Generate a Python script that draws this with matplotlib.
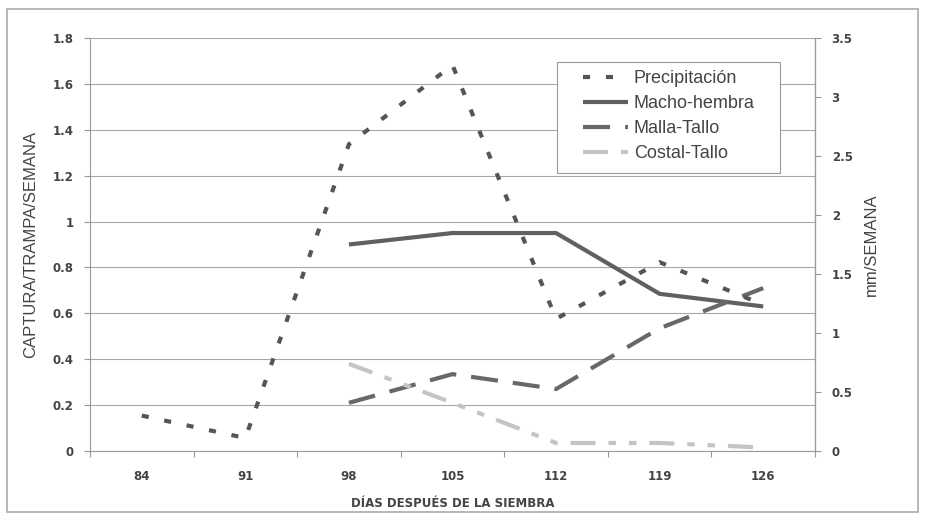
import matplotlib
matplotlib.use("Agg")
import matplotlib.pyplot as plt
from matplotlib.patches import Rectangle

days = ["84", "91", "98", "105", "112", "119", "126"]
precip = [0.30, 0.11, 2.60, 3.27, 1.12, 1.60, 1.24]          # mm/semana (right axis)
macho_days = ["98", "105", "112", "119", "126"]
macho = [0.90, 0.95, 0.95, 0.685, 0.63]
malla = [0.21, 0.335, 0.27, 0.535, 0.71]
costal = [0.38, 0.21, 0.035, 0.035, 0.015]
left_ticks = [0, 0.2, 0.4, 0.6, 0.8, 1, 1.2, 1.4, 1.6, 1.8]
right_ticks = [0, 0.5, 1, 1.5, 2, 2.5, 3, 3.5]

plt.rcParams['font.family'] = ['Liberation Sans', 'DejaVu Sans']

fig = plt.figure(figsize=(9.26, 5.17), dpi=100)
fig.patches.append(Rectangle((7/926, 5/517), 911/926, 503/517, transform=fig.transFigure,
                             fill=False, edgecolor='#aaaaaa', linewidth=1.2))
ax = fig.add_axes([90/926, 66/517, 725/926, 413/517])
ax2 = ax.twinx()

xi = {d: i for i, d in enumerate(days)}
xm = [xi[d] for d in macho_days]
xp = list(range(len(days)))

ax.set_xlim(-0.5, len(days) - 0.5)
ax.set_ylim(0, 1.8)
ax2.set_ylim(0, 3.5)

ax.set_yticks(left_ticks)
ax.set_yticklabels([f"{v:g}" for v in left_ticks])
ax2.set_yticks(right_ticks)
ax2.set_yticklabels([f"{v:g}" for v in right_ticks])
ax.grid(axis='y', color='#a8a8a8', linewidth=0.8)
ax.set_axisbelow(True)

ax.set_xticks([i - 0.5 for i in range(len(days) + 1)])
ax.set_xticklabels([])
ax.set_xticks(xp, minor=True)
ax.set_xticklabels(days, minor=True)
ax.tick_params(axis='x', which='minor', length=0, pad=14)
ax.tick_params(axis='x', which='major', length=4, color='#999999')

for a in (ax, ax2):
    a.spines['top'].set_visible(False)
ax.spines['left'].set_color('#999999')
ax.spines['bottom'].set_color('#999999')
ax2.spines['right'].set_color('#999999')
ax2.spines['left'].set_visible(False)
ax2.spines['bottom'].set_visible(False)
ax.tick_params(axis='y', length=4, color='#999999', pad=8)
ax2.tick_params(axis='y', length=4, color='#999999', pad=8)

for lab in ax.get_yticklabels() + ax2.get_yticklabels() + ax.get_xticklabels(minor=True):
    lab.set_family('DejaVu Sans'); lab.set_fontsize(8.5); lab.set_fontweight('bold'); lab.set_color('#444444')

l_mach, = ax.plot(xm, macho, color='#606060', linewidth=3, solid_capstyle='butt')
l_mall, = ax.plot(xm, malla, color='#686868', linewidth=3, dashes=(6.5, 3.6), dash_capstyle='butt')
l_cost, = ax.plot(xm, costal, color='#c4c4c4', linewidth=3, dashes=(6, 3.1, 1.8, 3.1, 1.8, 3.1),
                  dash_capstyle='butt')
l_prec, = ax2.plot(xp, precip, color='#555555', linewidth=3, dashes=(1.7, 3.8), dash_capstyle='butt')

ax.set_ylabel("CAPTURA/TRAMPA/SEMANA", fontsize=12, color='#444444', labelpad=10)
ax2.set_ylabel("mm/SEMANA", fontsize=12, color='#444444', labelpad=8)
ax.set_xlabel("DÍAS DESPUÉS DE LA SIEMBRA", fontsize=8.5, fontweight='bold', family='DejaVu Sans',
              color='#444444', labelpad=10)

box = Rectangle((557/926, (517-173)/517), 223/926, 111/517, transform=fig.transFigure,
                facecolor='white', edgecolor='#999999', linewidth=0.8, zorder=4, clip_on=False)
ax2.add_artist(box)

leg = ax2.legend([l_prec, l_mach, l_mall, l_cost],
                 ["Precipitación", "Macho-hembra", "Malla-Tallo", "Costal-Tallo"],
                 loc='upper left', fontsize=13, frameon=False,
                 handlelength=2.5, handletextpad=0.3, labelspacing=0.45,
                 borderpad=0.45, borderaxespad=0, labelcolor='#444444')
leg.set_bbox_to_anchor((575/926, (517-62)/517), transform=fig.transFigure)
leg.set_zorder(5)

fig.savefig("out.png", dpi=100)
